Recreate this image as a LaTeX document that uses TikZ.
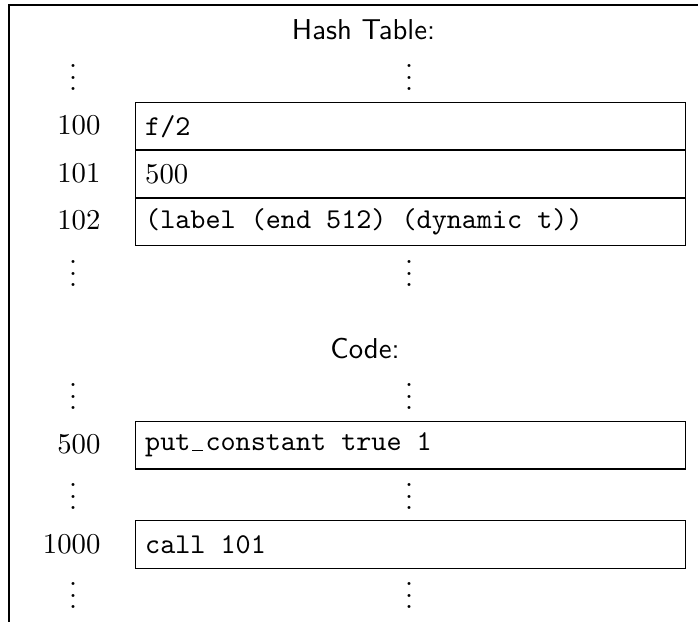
\documentclass[tikz,border=0pt]{standalone}
\usepackage{fontspec}
% typewriter text with full-width spaces
\newcommand\code[1]{{\ttfamily\spaceskip=.525em\relax #1}}
% short baseline rule in a full typewriter cell
\newcommand\ttus{\makebox[.525em][l]{\kern.06em\vbox{\hrule width.36em}}}
\begin{document}
\begin{tikzpicture}[x=0.348pt,y=-0.348pt,
  cell/.style={draw, line width=0.5pt, anchor=north west, inner xsep=3.3pt, inner ysep=0pt,
    text width=184.8pt, minimum height=16.7pt, align=left},
  addr/.style={anchor=east, inner sep=0pt},
  dots/.style={anchor=base, inner sep=0pt},
  heading/.style={anchor=base, inner sep=0pt, font=\sffamily}]
\useasboundingbox (0,0) rectangle (698,622);

% frame (top and left edges)
\draw[line width=0.5pt] (9,622) -- (9,5) -- (698,5);

% hash table
\node[heading] (ht) at (363.5,40) {Hash Table:};
\node[dots] (d1l) at (73,90.5) {\vdots};
\node[dots] (d1r) at (409,90.5) {\vdots};

\node[cell] (h100) at (135,102) {\code{f/2}};
\node[cell] (h101) at (135,149.5) {500};
\node[cell] (h102) at (135,197) {\code{(label (end 512) (dynamic t))}};
\node[addr] (a100) at (101,125.5) {100};
\node[addr] (a101) at (101,173) {101};
\node[addr] (a102) at (101,220.5) {102};

\node[dots] (d2l) at (73,286.5) {\vdots};
\node[dots] (d2r) at (409,286.5) {\vdots};

% code area
\node[heading] (cd) at (365,359) {Code:};
\node[dots] (d3l) at (73,409.5) {\vdots};
\node[dots] (d3r) at (409,409.5) {\vdots};

\node[cell] (c500) at (135,420.5) {\code{put\ttus constant true 1}};
\node[addr] (a500) at (101,444.5) {500};

\node[dots] (d4l) at (73,509.5) {\vdots};
\node[dots] (d4r) at (409,509.5) {\vdots};

\node[cell] (c1000) at (135,520) {\code{call 101}};
\node[addr] (a1000) at (101,544) {1000};

\node[dots] (d5l) at (73,608.5) {\vdots};
\node[dots] (d5r) at (409,608.5) {\vdots};
\end{tikzpicture}
\end{document}
